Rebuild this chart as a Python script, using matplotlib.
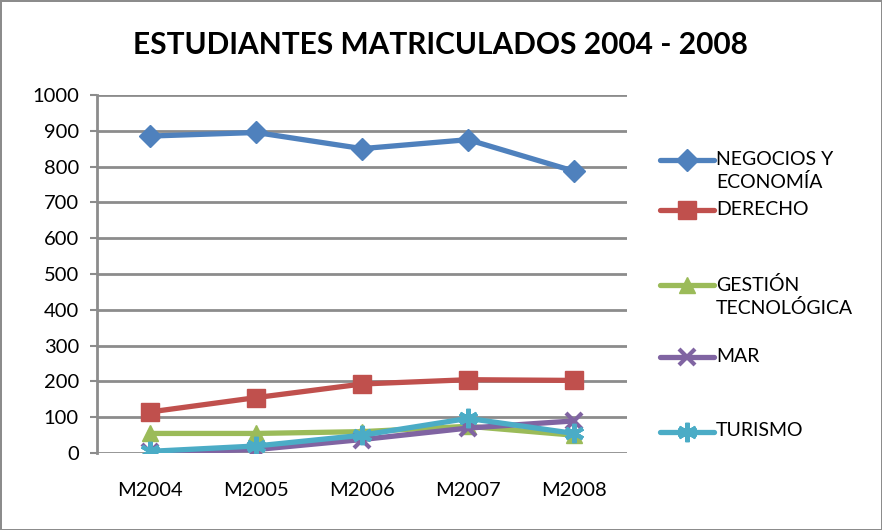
import matplotlib
matplotlib.use('Agg')
import matplotlib.pyplot as plt
from matplotlib.lines import Line2D
import numpy as np

# data
years = ["M2004", "M2005", "M2006", "M2007", "M2008"]
negocios = [885, 895, 850, 875, 787]
derecho = [115, 155, 193, 205, 203]
gestion = [55, 55, 60, 75, 50]
mar = [2, 10, 38, 70, 90]
turismo = [5, 20, 50, 97, 55]

labels = ["NEGOCIOS Y\nECONOMÍA", "DERECHO", "GESTIÓN\nTECNOLÓGICA", "MAR", "TURISMO"]
colors = ["#4F81BD", "#C0504D", "#9BBB59", "#8064A2", "#4BACC6"]
markers = ["D", "s", "^", "x", (6, 2, 0)]
msizes = [11, 13, 12, 12, 14]

plt.rcParams['font.family'] = ['Lato', 'DejaVu Sans']

fig = plt.figure(figsize=(8.82, 5.3), dpi=100)
fig.patch.set_edgecolor('#8c8c8c')
fig.patch.set_linewidth(2)

ax = fig.add_axes([0.110, 0.145, 0.601, 0.676])
x = np.arange(len(years))
series = [negocios, derecho, gestion, mar, turismo]
for vals, col, mk, ms in zip(series, colors, markers, msizes):
    ax.plot(x, vals, color=col, lw=3.8, marker=mk, ms=ms,
            mew=3 if mk in ("x", (6, 2, 0)) else 1, mec=col, mfc=col,
            solid_joinstyle='round', zorder=3)

ax.set_xlim(-0.5, len(years) - 0.5)
ax.set_ylim(0, 1000)
ax.set_yticks(range(0, 1001, 100))
ax.set_xticks(x)
ax.set_xticklabels(years)
ax.yaxis.grid(True, color='#8c8c8c', lw=2)
ax.set_axisbelow(True)
for s in ['top', 'right', 'bottom']:
    ax.spines[s].set_visible(False)
ax.spines['left'].set_color('#8c8c8c')
ax.spines['left'].set_linewidth(2)
ax.tick_params(axis='y', length=5, width=1.5, color='#8c8c8c', labelsize=14.5, pad=8)
ax.tick_params(axis='x', length=0, labelsize=14.5, pad=21)

fig.text(0.499, 0.915, "ESTUDIANTES MATRICULADOS 2004 - 2008",
         ha='center', va='center', fontsize=21.5, fontweight='bold')

# hand-made legend to get the uneven spacing of the original
leg_y = [0.698, 0.603, 0.462, 0.326, 0.185]
for lab, col, mk, ms, yy in zip(labels, colors, markers, msizes, leg_y):
    ln = Line2D([0.748, 0.81], [yy, yy], transform=fig.transFigure,
                color=col, lw=3.8, solid_capstyle='round')
    fig.add_artist(ln)
    mkr = Line2D([0.779], [yy], transform=fig.transFigure, color=col,
                 marker=mk, ms=ms, mew=3 if mk in ("x", (6, 2, 0)) else 1,
                 mec=col, mfc=col, lw=0)
    fig.add_artist(mkr)
    fig.text(0.812, yy + 0.018, lab, ha='left', va='top', fontsize=14,
             linespacing=1.35)

fig.savefig("out.png", dpi=100)
